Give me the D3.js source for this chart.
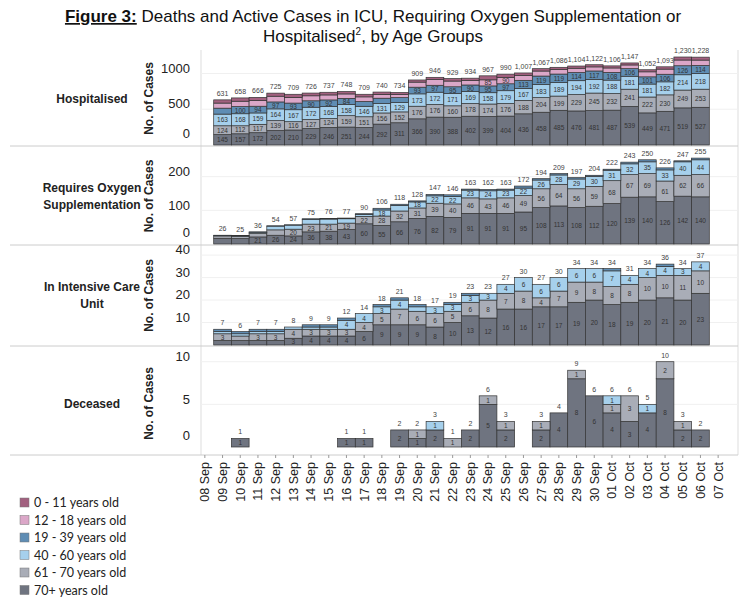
<!DOCTYPE html>
<html>
<head>
<meta charset="utf-8">
<script src="https://cdn.jsdelivr.net/npm/d3@7"></script>
<style>
  body { margin: 0; background: #fff; }
  text { font-family: "Liberation Sans", Arial, sans-serif; }
</style>
</head>
<body>
<svg id="chart" width="747" height="598"></svg>
<script>
// dates on the x axis
const dates = ["08 Sep","09 Sep","10 Sep","11 Sep","12 Sep","13 Sep","14 Sep","15 Sep","16 Sep","17 Sep",
  "18 Sep","19 Sep","20 Sep","21 Sep","22 Sep","23 Sep","24 Sep","25 Sep","26 Sep","27 Sep",
  "28 Sep","29 Sep","30 Sep","01 Oct","02 Oct","03 Oct","04 Oct","05 Oct","06 Oct","07 Oct"];

const ageGroups = ["70+ years old","61 - 70 years old","40 - 60 years old","19 - 39 years old","12 - 18 years old","0 - 11 years old"];
const ageColors = ["#6f7480","#a9adb7","#a6d0ec","#5f8db4","#dba7c8","#a2607f"];

// hospitalised, bars 09 Sep .. 06 Oct
const hospDates = dates.slice(1, 29);
const hosp70 = [145,157,172,202,210,229,246,251,244,292,311,366,390,388,402,399,404,436,458,485,476,481,487,539,449,471,519,527];
const hosp61 = [124,112,117,139,116,127,124,159,151,156,152,176,176,160,178,174,176,188,204,199,229,245,232,241,222,230,249,253];
const hosp40 = [163,168,159,164,167,172,168,158,146,131,129,173,172,171,169,158,179,167,183,189,194,192,188,181,181,182,214,218];
const hosp19 = [83,100,94,97,93,90,92,84,67,75,70,93,97,95,90,95,97,113,119,119,114,117,108,106,101,106,126,114];
const hosp12 = [71,75,80,80,80,70,70,62,65,54,44,71,79,80,62,85,90,70,70,62,60,57,62,52,70,72,80,75];
const hosp0 = [45,46,44,43,43,38,37,34,36,32,28,30,32,35,33,56,44,33,33,32,31,30,29,28,29,32,42,41];

// requires oxygen, bars 09 Sep .. 06 Oct
const oxyDates = dates.slice(1, 29);
const oxy70 = [17,16,21,26,24,36,38,43,60,55,66,76,82,79,91,91,91,95,108,113,108,112,120,139,140,126,142,140];
const oxy61 = [7,7,11,16,20,23,21,19,22,28,32,31,39,40,46,43,46,49,56,64,56,59,68,67,69,61,62,66];
const oxy40 = [1,1,3,11,12,14,15,13,6,18,16,18,22,22,23,24,23,22,26,28,29,30,31,32,35,33,40,44];
const oxy19 = [1,1,1,1,1,2,2,2,2,5,4,3,4,5,3,4,3,6,4,4,4,3,3,5,6,6,3,5];

// intensive care unit, bars 09 Sep .. 06 Oct
const icuDates = dates.slice(1, 29);
const icu70 = [2,2,2,2,3,4,4,4,6,9,9,9,8,10,13,12,16,16,17,17,19,20,18,19,20,21,20,23];
const icu61 = [3,2,3,3,4,3,3,3,4,5,7,6,6,5,6,8,7,8,4,7,9,8,8,8,10,10,11,10];
const icu40 = [1,1,1,1,1,1,1,4,4,3,4,2,3,3,3,3,4,6,6,6,6,6,7,4,4,4,3,4];
const icu19 = [1,1,1,1,0,1,1,1,0,1,1,1,0,1,1,0,0,0,0,0,0,0,1,0,0,1,0,0];

// deceased
const decDates = ["10 Sep","16 Sep","17 Sep","19 Sep","20 Sep","21 Sep","22 Sep","23 Sep","24 Sep","25 Sep",
  "27 Sep","28 Sep","29 Sep","30 Sep","01 Oct","02 Oct","03 Oct","04 Oct","05 Oct","06 Oct"];
const dec70 = [1,1,1,2,1,2,0,2,5,2,2,4,8,6,4,3,4,8,2,2];
const dec61 = [0,0,0,0,1,0,1,0,1,1,1,0,1,0,1,3,0,2,1,0];
const dec40 = [0,0,0,0,0,1,0,0,0,0,0,0,0,0,1,0,1,0,0,0];

const panels = [
  { label: ["Hospitalised"], top: 52, bottom: 145, ymin: 0, ymax: 1300, ticks: [0,500,1000], bars: 145,
    dates: hospDates, series: [hosp70,hosp61,hosp40,hosp19,hosp12,hosp0] },
  { label: ["Requires Oxygen","Supplementation"], top: 148, bottom: 244, ymin: 0, ymax: 285, ticks: [0,100,200], bars: 244,
    dates: oxyDates, series: [oxy70,oxy61,oxy40,oxy19] },
  { label: ["In Intensive Care","Unit"], top: 254, bottom: 345, ymin: 0, ymax: 40.5, ticks: [10,20,30,40], bars: 345,
    dates: icuDates, series: [icu70,icu61,icu40,icu19] },
  { label: ["Deceased"], top: 360, bottom: 447, ymin: 0, ymax: 10.2, ticks: [0,5,10], bars: 447,
    dates: decDates, series: [dec70,dec61,dec40] }
];

const svg = d3.select("#chart");

// title
const title = svg.append("text").attr("x", 373).attr("y", 22).attr("text-anchor", "middle")
  .style("font-size", "17px").attr("fill", "#111");
title.append("tspan").style("font-weight", "bold").style("text-decoration", "underline").text("Figure 3:");
title.append("tspan").text(" Deaths and Active Cases in ICU, Requiring Oxygen Supplementation or");
const t2 = svg.append("text").attr("x", 373).attr("y", 42).attr("text-anchor", "middle")
  .style("font-size", "17px").attr("fill", "#111");
t2.append("tspan").text("Hospitalised");
t2.append("tspan").attr("dy", -7).style("font-size", "10px").text("2");
t2.append("tspan").attr("dy", 7).text(", by Age Groups");

const x = d3.scaleBand().domain(dates).range([196, 727]).padding(0);

// frame lines
svg.append("line").attr("x1", 201).attr("x2", 201).attr("y1", 50).attr("y2", 455).attr("stroke", "#ddd");
svg.append("line").attr("x1", 738).attr("x2", 738).attr("y1", 50).attr("y2", 455).attr("stroke", "#ddd");
[146, 245, 346, 455].forEach(yy => {
  svg.append("line").attr("x1", 10).attr("x2", 738).attr("y1", yy).attr("y2", yy).attr("stroke", "#ccc");
});

panels.forEach(p => {
  const y = d3.scaleLinear().domain([p.ymin, p.ymax]).range([p.bars, p.top]);
  const g = svg.append("g");

  // light gridlines
  p.ticks.filter(t => t > 0).forEach(t => {
    g.append("line").attr("x1", 201).attr("x2", 738).attr("y1", y(t)).attr("y2", y(t))
      .attr("stroke", "#f0f0f0");
  });

  // row label
  const mid = (p.top + p.bottom) / 2 + (p.top === 254 ? -4 : 0);
  p.label.forEach((l, i) => {
    g.append("text").attr("x", 92).attr("y", mid + 4 + (i - (p.label.length - 1) / 2) * 17)
      .attr("text-anchor", "middle").style("font-size", "12px").style("font-weight", "bold")
      .attr("fill", "#222").text(l);
  });
  g.append("text").attr("transform", `translate(153,${mid}) rotate(-90)`)
    .attr("text-anchor", "middle").style("font-size", "12px").style("font-weight", "bold")
    .attr("fill", "#222").text("No. of Cases");

  // y axis
  const axis = g.append("g").attr("transform", "translate(190,0)")
    .call(d3.axisLeft(y).tickValues(p.ticks).tickSize(0).tickFormat(d3.format("d")));
  axis.select(".domain").remove();
  axis.selectAll("text").attr("dy", d => d === 0 ? "-0.55em" : "-0.1em")
    .style("font-size", "13px").attr("fill", "#222")
    .attr("text-anchor", "end").attr("x", 0);

  // stacked bars
  const rows = p.dates.map((d, i) => {
    const r = { date: d };
    p.series.forEach((s, k) => r["k" + k] = s[i]);
    return r;
  });
  const keys = p.series.map((s, k) => "k" + k);
  const stack = d3.stack().keys(keys)(rows);

  stack.forEach((layer, k) => {
    layer.forEach(seg => {
      const v = seg[1] - seg[0];
      if (v <= 0) return;
      const date = seg.data.date;
      const h = y(seg[0]) - y(seg[1]);
      g.append("rect").attr("x", x(date)).attr("width", x.bandwidth())
        .attr("y", y(seg[1])).attr("height", h)
        .attr("fill", ageColors[k]).attr("stroke", "#333").attr("stroke-width", 0.7);
      if (h >= 6) {
        g.append("text").attr("x", x(date) + x.bandwidth() / 2).attr("y", (y(seg[0]) + y(seg[1])) / 2 + 2.5)
          .attr("text-anchor", "middle").style("font-size", "6.5px").attr("fill", "#333").text(v);
      }
    });
  });

  // totals
  rows.forEach(r => {
    const tot = d3.sum(keys, k => r[k]);
    g.append("text").attr("x", x(r.date) + x.bandwidth() / 2).attr("y", y(tot) - 4)
      .attr("text-anchor", "middle").style("font-size", "7px").attr("fill", "#444").text(d3.format(",")(tot));
  });
});

// x axis
const xa = svg.append("g").attr("transform", "translate(0,455)")
  .call(d3.axisBottom(x).tickSize(3));
xa.select(".domain").remove();
xa.selectAll(".tick line").attr("stroke", "#999");
xa.selectAll("text").attr("transform", "rotate(-90)").attr("x", -7).attr("y", 0)
  .attr("dy", "0.35em").attr("text-anchor", "end").style("font-size", "12.5px").attr("fill", "#222");

// legend
const legOrder = [5,4,3,2,1,0];
legOrder.forEach((k, i) => {
  const ly = 503 + i * 17.5;
  svg.append("rect").attr("x", 20).attr("y", ly - 5).attr("width", 9).attr("height", 9)
    .attr("fill", ageColors[k]).attr("stroke", "#777").attr("stroke-width", 0.5);
  svg.append("text").attr("x", 34).attr("y", ly + 4).style("font-size", "12.5px")
    .style("font-family", "Lato, sans-serif").attr("fill", "#222").text(ageGroups[k]);
});
</script>
</body>
</html>
